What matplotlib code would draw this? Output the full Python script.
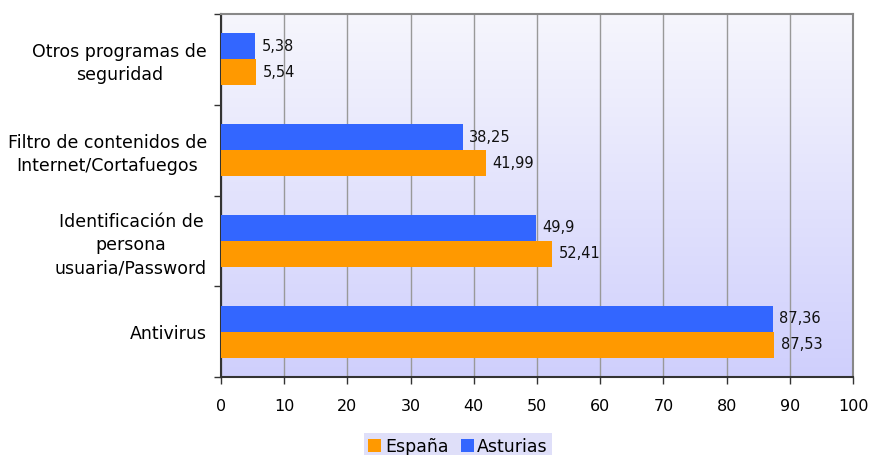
#!/usr/bin/env python3
import numpy as np
import matplotlib
matplotlib.use("Agg")
import matplotlib.pyplot as plt
from matplotlib.colors import LinearSegmentedColormap

# Data: percentage of households using each security tool
categorias = ["Antivirus",
              "Identificación de\npersona\nusuaria/Password",
              "Filtro de contenidos de\nInternet/Cortafuegos",
              "Otros programas de\nseguridad"]
espana = [87.53, 52.41, 41.99, 5.54]
asturias = [87.36, 49.9, 38.25, 5.38]
etiquetas_espana = ["87,53", "52,41", "41,99", "5,54"]
etiquetas_asturias = ["87,36", "49,9", "38,25", "5,38"]

COLOR_ESP = "#ff9900"
COLOR_AST = "#3366ff"

plt.rcParams["font.family"] = ["DejaVu Sans"]

fig = plt.figure(figsize=(8.74, 4.55), dpi=100)
ax = fig.add_axes([221 / 874, 1 - 377 / 455, (853 - 221) / 874, (377 - 14) / 455])

# vertical gradient background
grad = LinearSegmentedColormap.from_list("bg", ["#cfcffc", "#f6f6fd"])
ax.imshow(np.linspace(0, 1, 256).reshape(-1, 1), cmap=grad, aspect="auto",
          extent=[0, 1, 0, 1], transform=ax.transAxes, origin="lower", zorder=0)

y = np.arange(len(categorias))
h = 0.287
ax.barh(y - h / 2, espana, height=h, color=COLOR_ESP, label="España", zorder=3)
ax.barh(y + h / 2, asturias, height=h, color=COLOR_AST, label="Asturias", zorder=3)

for yi, v, t in zip(y, espana, etiquetas_espana):
    ax.text(v + 1, yi - h / 2, t, va="center", ha="left", fontsize=10.5, color="#111111", zorder=4)
for yi, v, t in zip(y, asturias, etiquetas_asturias):
    ax.text(v + 1, yi + h / 2, t, va="center", ha="left", fontsize=10.5, color="#111111", zorder=4)

ax.set_xlim(0, 100)
ax.set_ylim(-0.5, len(categorias) - 0.5)
ax.set_xticks(np.arange(0, 101, 10))
ax.tick_params(axis="x", labelsize=11.5, length=5, width=1, color="#333333", pad=11)
ax.set_yticks(np.arange(-0.5, len(categorias), 1))
ax.set_yticklabels([])
ax.set_yticks(y, minor=True)
ax.set_yticklabels(categorias, minor=True, fontsize=12.5, ha="right",
                   multialignment="center", linespacing=1.35)
ax.tick_params(axis="y", which="minor", length=0, pad=10)
ax.tick_params(axis="y", which="major", length=5, width=1, color="#333333")
ax.grid(axis="x", color="#999999", linewidth=1, zorder=1)

for side in ["left", "bottom"]:
    ax.spines[side].set_color("#333333")
    ax.spines[side].set_linewidth(1.5)
for side in ["top", "right"]:
    ax.spines[side].set_color("#888888")
    ax.spines[side].set_linewidth(1.5)

leg = fig.legend(loc="lower center", bbox_to_anchor=(458 / 874, -0.03), ncol=2,
                 fontsize=12.5, frameon=True, fancybox=False, handlelength=0.75,
                 handleheight=0.75, handletextpad=0.2, columnspacing=0.7,
                 borderpad=0.25)
leg.get_frame().set_facecolor("#d8d8f8")
leg.get_frame().set_edgecolor("none")

fig.savefig("out.png", dpi=100)
